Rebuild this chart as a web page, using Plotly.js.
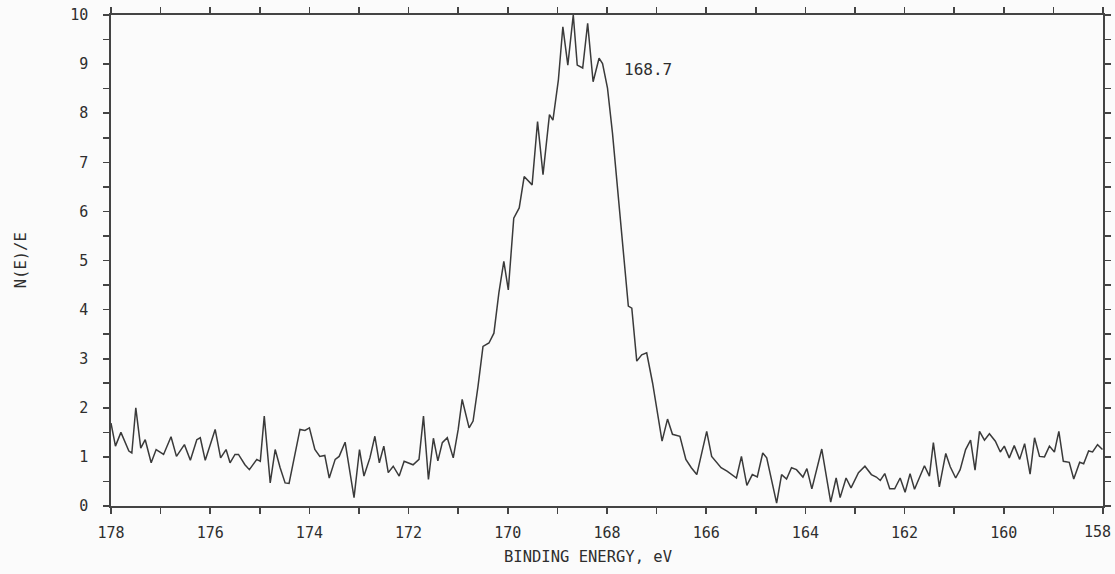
<!DOCTYPE html>
<html>
<head>
<meta charset="utf-8">
<script src="https://cdn.plot.ly/plotly-3.0.1.min.js"></script>
<style>
  html, body { margin: 0; padding: 0; background: #fbfbfb; }
  #plot { width: 1115px; height: 574px; }
</style>
</head>
<body>
<div id="plot"></div>
<script>
// S 2p region scan: binding energy (eV) and N(E)/E counts
const bindingEnergy = [
  178.00, 177.91, 177.80, 177.64, 177.58, 177.50, 177.40, 177.31, 177.19, 177.09,
  176.94, 176.79, 176.68, 176.52, 176.40, 176.27, 176.20, 176.10, 175.90, 175.79,
  175.68, 175.60, 175.50, 175.43, 175.30, 175.21, 175.06, 174.99, 174.91, 174.79,
  174.69, 174.59, 174.49, 174.41, 174.19, 174.09, 174.00, 173.89, 173.79, 173.69,
  173.60, 173.48, 173.40, 173.28, 173.10, 172.99, 172.90, 172.78, 172.68, 172.59,
  172.50, 172.41, 172.31, 172.19, 172.09, 171.91, 171.79, 171.70, 171.60, 171.50,
  171.41, 171.32, 171.22, 171.10, 171.00, 170.92, 170.78, 170.70, 170.60, 170.50,
  170.38, 170.28, 170.18, 170.08, 169.99, 169.88, 169.77, 169.67, 169.51, 169.40,
  169.29, 169.16, 169.09, 168.98, 168.89, 168.79, 168.68, 168.60, 168.49, 168.39,
  168.28, 168.16, 168.09, 167.99, 167.89, 167.65, 167.57, 167.50, 167.40, 167.30,
  167.20, 167.08, 166.89, 166.78, 166.68, 166.53, 166.41, 166.30, 166.19, 165.99,
  165.89, 165.70, 165.58, 165.39, 165.29, 165.18, 165.07, 164.97, 164.86, 164.78,
  164.58, 164.48, 164.38, 164.28, 164.18, 164.05, 163.97, 163.87, 163.67, 163.49,
  163.38, 163.30, 163.18, 163.08, 162.93, 162.80, 162.67, 162.57, 162.49, 162.40,
  162.30, 162.20, 162.09, 161.99, 161.89, 161.80, 161.70, 161.60, 161.50, 161.42,
  161.30, 161.17, 161.08, 160.97, 160.88, 160.77, 160.67, 160.58, 160.49, 160.39,
  160.29, 160.17, 160.07, 159.99, 159.89, 159.79, 159.68, 159.58, 159.47, 159.38,
  159.28, 159.18, 159.08, 158.98, 158.89, 158.80, 158.68, 158.59, 158.47, 158.39,
  158.29, 158.21, 158.11, 158.01
];

const intensity = [
  1.69, 1.22, 1.50, 1.12, 1.08, 2.00, 1.18, 1.35, 0.88, 1.15,
  1.05, 1.41, 1.01, 1.25, 0.93, 1.35, 1.39, 0.93, 1.56, 0.98,
  1.15, 0.88, 1.05, 1.05, 0.84, 0.74, 0.95, 0.91, 1.83, 0.47,
  1.15, 0.78, 0.47, 0.46, 1.56, 1.54, 1.59, 1.15, 1.01, 1.03,
  0.57, 0.95, 1.01, 1.30, 0.17, 1.15, 0.61, 0.98, 1.42, 0.88,
  1.22, 0.68, 0.81, 0.61, 0.91, 0.84, 0.95, 1.83, 0.54, 1.38,
  0.92, 1.29, 1.39, 0.98, 1.56, 2.17, 1.59, 1.73, 2.44, 3.25,
  3.32, 3.52, 4.34, 4.98, 4.40, 5.86, 6.07, 6.71, 6.54, 7.83,
  6.75, 7.97, 7.86, 8.68, 9.76, 8.98, 10.00, 8.98, 8.92, 9.83,
  8.64, 9.12, 9.01, 8.51, 7.60, 4.88, 4.07, 4.03, 2.95, 3.08,
  3.12, 2.50, 1.32, 1.77, 1.46, 1.42, 0.95, 0.78, 0.64, 1.52,
  1.01, 0.78, 0.71, 0.57, 1.01, 0.42, 0.64, 0.59, 1.08, 0.98,
  0.06, 0.64, 0.55, 0.78, 0.74, 0.59, 0.76, 0.35, 1.16, 0.08,
  0.57, 0.17, 0.57, 0.37, 0.68, 0.81, 0.64, 0.59, 0.52, 0.66,
  0.35, 0.35, 0.57, 0.28, 0.66, 0.34, 0.57, 0.82, 0.61, 1.29,
  0.39, 1.07, 0.80, 0.57, 0.74, 1.15, 1.34, 0.73, 1.52, 1.34,
  1.47, 1.32, 1.10, 1.22, 0.98, 1.23, 0.95, 1.27, 0.65, 1.39,
  1.01, 1.00, 1.22, 1.10, 1.52, 0.91, 0.89, 0.55, 0.89, 0.86,
  1.12, 1.10, 1.25, 1.15
];

// Tick positions and their labels (blank = unlabeled minor tick).
// The last label (158) sits at the right frame edge and is placed as its own note.
const xTickVals = [178,177,176,175,174,173,172,171,170,169,168,167,166,165,164,163,162,161,160,159,158];
const xTickText = ['178','','176','','174','','172','','170','','168','','166','','164','','162','','160','','158'];
const yTickVals = [0,0.5,1,1.5,2,2.5,3,3.5,4,4.5,5,5.5,6,6.5,7,7.5,8,8.5,9,9.5,10];
const yTickText = ['0','','1','','2','','3','','4','','5','','6','','7','','8','','9','','10'];

const peakLabel = '168.7';
const peakLabelPos = { x: 167.17, y: 8.88 };
const xTitle = 'BINDING ENERGY, eV';
const yTitle = 'N(E)/E';

const ink = '#3a3a3a';
const textInk = '#2e2e2e';
const axisInk = '#444444';
const mono = 'DejaVu Sans Mono, Liberation Mono, monospace';

const trace = {
  x: bindingEnergy,
  y: intensity,
  type: 'scatter',
  mode: 'lines',
  line: { color: ink, width: 1.5 },
  hoverinfo: 'x+y',
  showlegend: false
};

const xRange = [178, 158];
const yRange = [0, 10];

const lastIdx = xTickVals.length - 1;
const axisTickText = xTickText.map((t, i) => (i === lastIdx ? '' : t));

const baseAxis = {
  showgrid: false,
  zeroline: false,
  showline: true,
  linecolor: axisInk,
  linewidth: 1.8,
  tickmode: 'array',
  ticklen: 6,
  tickwidth: 1.6,
  tickcolor: axisInk,
  mirror: 'ticks',
  fixedrange: true
};

const layout = {
  width: 1115,
  height: 574,
  paper_bgcolor: '#fbfbfb',
  plot_bgcolor: '#fbfbfb',
  margin: { l: 111, r: 12, t: 15, b: 68 },
  font: { family: mono, color: textInk, size: 15 },
  xaxis: Object.assign({}, baseAxis, {
    range: xRange,
    tickvals: xTickVals,
    ticktext: axisTickText,
    ticks: 'outside',
    ticklabelstandoff: 6,
    tickfont: { family: mono, size: 15, color: textInk }
  }),
  xaxis2: Object.assign({}, baseAxis, {
    range: xRange,
    overlaying: 'x',
    anchor: 'y',
    tickvals: xTickVals,
    ticktext: xTickVals.map(() => ''),
    ticks: 'inside',
    showticklabels: false
  }),
  yaxis: Object.assign({}, baseAxis, {
    range: yRange,
    tickvals: yTickVals,
    ticktext: yTickText,
    ticks: 'outside',
    ticklabelstandoff: 12,
    tickfont: { family: mono, size: 15, color: textInk }
  }),
  yaxis2: Object.assign({}, baseAxis, {
    range: yRange,
    overlaying: 'y',
    anchor: 'x',
    tickvals: yTickVals,
    ticktext: yTickVals.map(() => ''),
    ticks: 'inside',
    showticklabels: false
  }),
  annotations: [
    {
      text: peakLabel, x: peakLabelPos.x, y: peakLabelPos.y,
      xref: 'x', yref: 'y', xanchor: 'center', yanchor: 'middle', showarrow: false,
      font: { family: mono, size: 16, color: textInk }
    },
    {
      // end-of-axis tick label, nudged inward so it stays on the page
      text: xTickText[lastIdx], x: xTickVals[lastIdx], y: 0,
      xref: 'x', yref: 'paper', xanchor: 'center', yanchor: 'middle',
      xshift: -6, yshift: -26, showarrow: false,
      font: { family: mono, size: 15, color: textInk }
    },
    {
      text: xTitle, xref: 'paper', yref: 'paper', x: 0.481, y: -0.103,
      xanchor: 'center', yanchor: 'middle',
      showarrow: false, font: { family: mono, size: 15.5, color: textInk }
    },
    {
      text: yTitle, xref: 'paper', yref: 'paper', x: -0.091, y: 0.50,
      xanchor: 'center', yanchor: 'middle',
      textangle: -90, showarrow: false,
      font: { family: mono, size: 15.5, color: textInk }
    }
  ]
};

Plotly.newPlot('plot', [trace], layout, { displayModeBar: false, staticPlot: true });
</script>
</body>
</html>
